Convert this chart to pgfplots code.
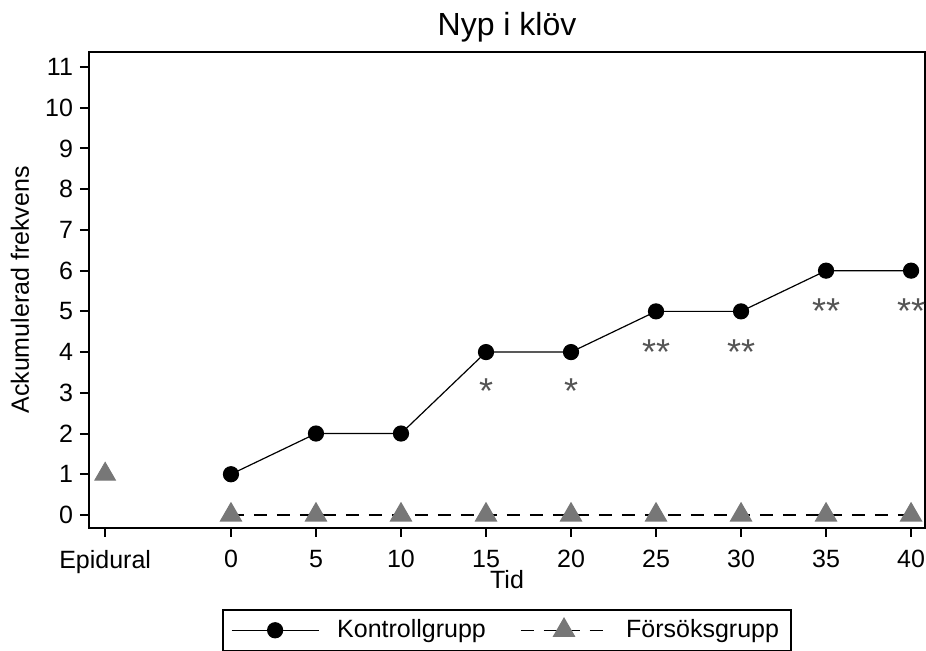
\documentclass[border=0pt]{standalone}
\usepackage{pgfplots}
\pgfplotsset{compat=1.18}
\usepackage{fontspec}
\setmainfont{Liberation Sans}
\definecolor{markgray}{HTML}{777777}
\definecolor{stargray}{HTML}{555555}
\begin{document}
\begin{tikzpicture}
\useasboundingbox (-44.5pt,-61.5pt) rectangle (418.5pt,264pt);
\begin{axis}[
  at={(0pt,0pt)}, anchor=south west,
  scale only axis, width=418pt, height=238pt,
  xmin=-8.35, xmax=40.82, ymin=-0.32, ymax=11.37,
  xtick={-7.4,0,5,10,15,20,25,30,35,40},
  xticklabels={Epidural,0,5,10,15,20,25,30,35,40},
  ytick={0,1,...,11},
  xtick pos=bottom, ytick pos=left,
  tick align=outside,
  major tick length=4.5pt,
  tick style={line width=1pt, black},
  axis line style={line width=1pt},
  /pgf/number format/assume math mode=true,
  tick label style={font=\fontsize{12.5}{15}\selectfont},
  xticklabel style={yshift=-3pt},
  every axis title shift=0pt,
  title={Nyp i klöv},
  title style={font=\fontsize{16}{19}\selectfont, at={(axis description cs:0.5,1.0525)}, anchor=center},
  xlabel={Tid},
  xlabel style={font=\fontsize{12.5}{15}\selectfont, at={(axis description cs:0.5,-0.109)}, anchor=center},
  ylabel={Ackumulerad frekvens},
  ylabel style={font=\fontsize{12.5}{15}\selectfont, at={(axis description cs:-0.0825,0.5)}, anchor=center},
  legend style={at={(axis description cs:0.5,-0.170)}, anchor=north,
    font=\fontsize{12.5}{15}\selectfont, draw=black, line width=0.8pt,
    legend columns=2, inner xsep=4pt, inner ysep=3pt,
    /tikz/every odd column/.append style={column sep=7pt},
    /tikz/every even column/.append style={column sep=15pt}},
  legend image code/.code={\draw[mark repeat=2,mark phase=2,#1] plot coordinates {(0pt,0pt) (21.75pt,0pt) (43.5pt,0pt)};},
]
\addplot[black, line width=0.6pt, mark=*, mark size=3.75pt, mark options={solid, fill=black}]
  coordinates {(0,1) (5,2) (10,2) (15,4) (20,4) (25,5) (30,5) (35,6) (40,6)};
\addlegendentry{Kontrollgrupp}
\addplot[black, line width=0.6pt, dash pattern=on 6.5pt off 5pt, mark=triangle*, mark size=6pt, mark options={solid, draw=markgray, fill=markgray}]
  coordinates {(0,0) (5,0) (10,0) (15,0) (20,0) (25,0) (30,0) (35,0) (40,0)};
\addlegendentry{Försöksgrupp}
\addplot[forget plot, only marks, mark=triangle*, mark size=6pt, mark options={draw=markgray, fill=markgray}]
  coordinates {(-7.4,1)};
\addplot[forget plot, draw=none, mark=none, nodes near coords, point meta=explicit symbolic,
  every node near coord/.style={anchor=center, yshift=-3.9pt, text=stargray, font=\fontsize{18}{21}\selectfont}]
  table[meta=label] {
x y label
15 3.24 *
20 3.24 *
25 4.20 **
30 4.20 **
35 5.20 **
40 5.20 **
};
\end{axis}
\end{tikzpicture}
\end{document}
